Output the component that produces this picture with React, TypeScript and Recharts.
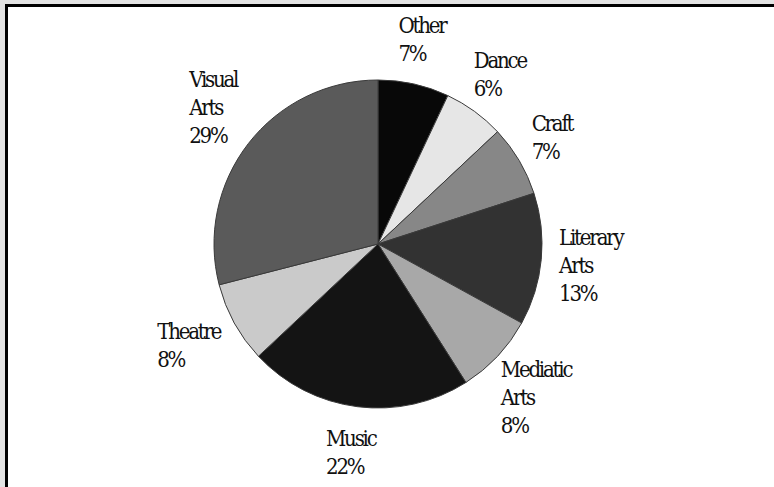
import React from 'react';
import { PieChart, Pie, Cell } from 'recharts';

// sectors, clockwise from 12 o'clock
const names = ['Other', 'Dance', 'Craft', 'Literary Arts', 'Mediatic Arts', 'Music', 'Theatre', 'Visual Arts'];
const shares = [7, 6, 7, 13, 8, 22, 8, 29];
const fills = ['#080808', '#e6e6e6', '#878787', '#323232', '#a8a8a8', '#141414', '#cacaca', '#5a5a5a'];

const chartData = names.map((name, i) => ({ name, value: shares[i] }));

const FONT = '"DejaVu Serif Condensed", "DejaVu Serif", serif';
const FONT_SIZE = 22;
const LETTER_SPACING = -2.2;
const LINE_HEIGHT = 28;
const GAP = 18;
const RAD = Math.PI / 180;

let ctx: CanvasRenderingContext2D | null = null;
function textWidth(s: string) {
  if (!ctx) {
    ctx = document.createElement('canvas').getContext('2d');
  }
  if (!ctx) return s.length * 9;
  ctx.font = `condensed ${FONT_SIZE}px ${FONT}`;
  return ctx.measureText(s).width + (s.length - 1) * LETTER_SPACING;
}

const renderLabel = (props: any) => {
  const { cx, cy, midAngle, outerRadius, index } = props;
  const lines = [...names[index].split(' '), `${shares[index]}%`];
  const w = Math.max(...lines.map(textWidth));
  const h = lines.length * LINE_HEIGHT;
  const ux = Math.cos(-midAngle * RAD);
  const uy = Math.sin(-midAngle * RAD);
  // anchor just outside the rim, text block pushed away from the pie
  const ax = cx + (outerRadius + GAP) * ux;
  const ay = cy + (outerRadius + GAP) * uy;
  const left = ax + (w / 2) * ux - w / 2;
  const top = ay + (h / 2) * uy - h / 2;
  return (
    <text
      key={index}
      x={left}
      y={top}
      fill="#111"
      style={{ fontFamily: FONT, fontStretch: 'condensed', fontSize: FONT_SIZE, letterSpacing: LETTER_SPACING }}
    >
      {lines.map((l, i) => (
        <tspan key={i} x={left} y={top + 22 + i * LINE_HEIGHT}>
          {l}
        </tspan>
      ))}
    </text>
  );
};

export default function App() {
  return (
    <div style={{ position: 'fixed', left: 0, top: 0, width: 774, height: 487, background: '#e3e3e3', overflow: 'hidden' }}>
      <div
        style={{
          position: 'absolute',
          left: 5,
          top: 4,
          width: 820,
          height: 540,
          background: '#fff',
          borderTop: '3px solid #000',
          borderLeft: '3px solid #000',
        }}
      />
      <div style={{ position: 'absolute', left: 0, top: 0 }}>
        <PieChart width={774} height={487} margin={{ top: 0, right: 0, bottom: 0, left: 0 }}>
          <Pie
            data={chartData}
            dataKey="value"
            nameKey="name"
            cx={378}
            cy={244}
            outerRadius={164}
            startAngle={90}
            endAngle={-270}
            stroke="#3a3a3a"
            strokeWidth={1}
            label={renderLabel}
            labelLine={false}
            isAnimationActive={false}
          >
            {chartData.map((d, i) => (
              <Cell key={d.name} fill={fills[i]} />
            ))}
          </Pie>
        </PieChart>
      </div>
    </div>
  );
}
